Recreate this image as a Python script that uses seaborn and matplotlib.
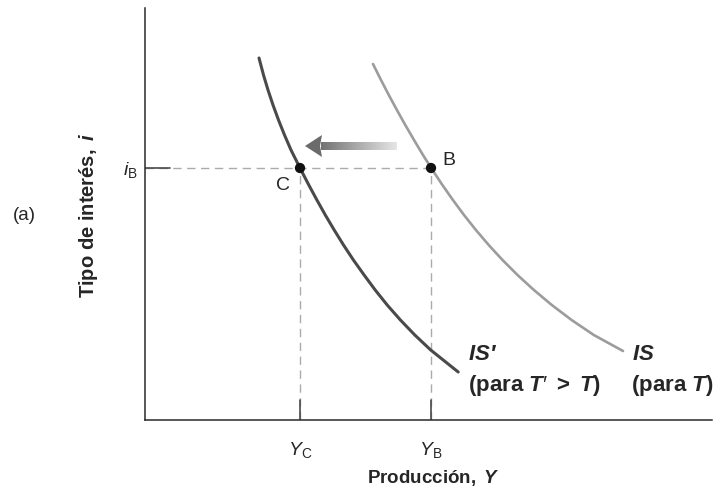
import numpy as np
import pandas as pd
import matplotlib
matplotlib.use("Agg")
import matplotlib.pyplot as plt
import seaborn as sns
from matplotlib.patches import Polygon

# ---- data (diagram units) ----
is_new_x = [114, 118.5, 123, 128, 133.5, 139.5, 146, 155, 163.8, 171.9, 180.3, 189.2, 198.5,
            208.4, 219.1, 230.2, 242.2, 255.4, 269.8, 285.7, 313.2]
is_new_y = [362, 345, 330, 315, 300, 285, 270, 252, 235, 220, 205, 190, 175,
            160, 145, 130, 115, 100, 85, 70, 48]
is_old_x = [228, 236, 243.8, 251.9, 260.3, 269, 278, 286.8, 297.4, 307.9, 319, 330.9, 343.7,
            357.5, 372.5, 388.9, 406.8, 426.6, 448.8, 478]
is_old_y = [356, 340, 325, 310, 295, 280, 265, 251, 235, 220, 205, 190, 175,
            160, 145, 130, 115, 100, 85, 69]
eq_x = [155, 286]
eq_y = [252, 252]
eq_labels = ["C", "B"]
i_b = 252
y_c, y_b = 155, 286
arrow_tail, arrow_tip, arrow_y = 252, 160, 274

sns.set_theme(style="white")
plt.rcParams['font.family'] = ['Liberation Sans', 'DejaVu Sans']
plt.rcParams['mathtext.fontset'] = 'custom'
plt.rcParams['mathtext.rm'] = 'Liberation Sans'
plt.rcParams['mathtext.it'] = 'Liberation Sans:italic'
plt.rcParams['mathtext.bf'] = 'Liberation Sans:bold'
plt.rcParams['mathtext.bfit'] = 'Liberation Sans:bold:italic'

fig = plt.figure(figsize=(7.28, 4.92), dpi=100)
ax = fig.add_axes([145/728, 72/492, 567/728, 412/492])
for s in ["top", "right"]:
    ax.spines[s].set_visible(False)
for s in ["left", "bottom"]:
    ax.spines[s].set_color("#2a2a2a")
    ax.spines[s].set_linewidth(1.1)
ax.set_xticks([])
ax.set_yticks([])
ax.set_facecolor("white")

# dashed guides
dash_kw = dict(color="#ababab", lw=1.0, dashes=(6, 4), zorder=1)
ax.plot([0, eq_x[1]], [i_b, i_b], **dash_kw)
ax.plot([y_c, y_c], [0, i_b], **dash_kw)
ax.plot([y_b, y_b], [0, i_b], **dash_kw)
# solid tick stubs
stub = dict(color="#4a4a4a", lw=1.2, zorder=2)
ax.plot([0, 25], [i_b, i_b], **stub)
ax.plot([y_c, y_c], [0, 20], **stub)
ax.plot([y_b, y_b], [0, 20], **stub)

# curves
df_new = pd.DataFrame({"x": is_new_x, "y": is_new_y})
df_old = pd.DataFrame({"x": is_old_x, "y": is_old_y})
sns.lineplot(data=df_old, x="x", y="y", sort=False, color="#9c9c9c", lw=1.9, ax=ax, zorder=3)
sns.lineplot(data=df_new, x="x", y="y", sort=False, color="#4a4a4a", lw=2.2, ax=ax, zorder=3)
for ln in ax.lines[-2:]:
    ln.set_solid_capstyle("round")
    ln.set_solid_joinstyle("round")

# equilibrium points
sns.scatterplot(x=eq_x, y=eq_y, color="#111111", s=55, ax=ax, zorder=5, edgecolor="none")

# gradient arrow
head_base = arrow_tip + 17
grad = np.linspace(0.45, 0.90, 200).reshape(1, -1)
ax.imshow(grad, extent=[head_base - 1, arrow_tail, arrow_y - 4, arrow_y + 4], cmap="gray",
          vmin=0, vmax=1, aspect="auto", interpolation="bilinear", zorder=4)
ax.add_patch(Polygon([(arrow_tip, arrow_y), (head_base, arrow_y + 11), (head_base - 2, arrow_y),
                      (head_base, arrow_y - 11)], closed=True, color="0.42", zorder=4, lw=0))
ax.set_xlim(0, 567)
ax.set_ylim(0, 412)
ax.set_xlabel("")
ax.set_ylabel("")

# labels
ax.text(-7, i_b - 2, r"$\mathit{i}_{\mathrm{B}}$", ha="right", va="center", fontsize=14, clip_on=False)
ax.text(y_c, -30, r"$\mathit{Y}_{\mathrm{C}}$", ha="center", va="center", fontsize=14, clip_on=False)
ax.text(y_b, -30, r"$\mathit{Y}_{\mathrm{B}}$", ha="center", va="center", fontsize=14, clip_on=False)
ax.text(288, -58, r"$\mathbf{Producción,}$ $\mathbfit{Y}$", ha="center", va="center",
        fontsize=13.5, clip_on=False)
ax.text(-57, 205, r"$\mathbf{Tipo}$ $\mathbf{de}$ $\mathbf{interés,}$ $\mathbfit{i}$", ha="center",
        va="center", rotation=90, fontsize=14.5, clip_on=False)
ax.text(-121, 205, "(a)", ha="center", va="center", fontsize=13.5, clip_on=False)
ax.text(eq_x[0] - 17, eq_y[0] - 17, eq_labels[0], ha="center", va="center", fontsize=14)
ax.text(eq_x[1] + 18, eq_y[1] + 8, eq_labels[1], ha="center", va="center", fontsize=14)

lab = dict(fontsize=16, clip_on=False, ha="left", va="center")
ax.text(323, 65, r"$\mathbfit{IS}$′", fontweight="bold", fontstyle="italic", **lab)
ax.text(323, 35, r"$\mathbf{(para}$ $\mathbfit{T}$′ $\mathbf{>}$ $\mathbfit{T}\mathbf{)}$", **lab)
ax.text(487, 65, r"$\mathbfit{IS}$", **lab)
ax.text(486, 35, r"$\mathbf{(para}$ $\mathbfit{T}\mathbf{)}$", **lab)

fig.savefig("out.png", dpi=100, facecolor="white")
